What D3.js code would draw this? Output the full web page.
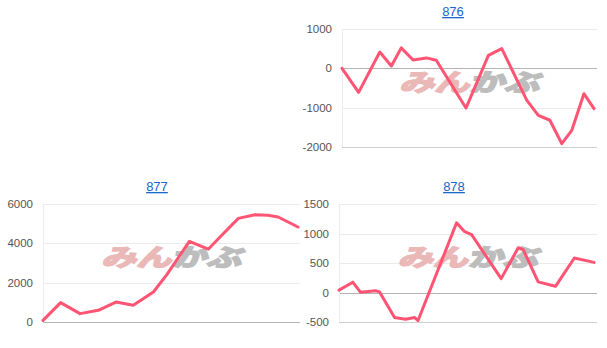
<!DOCTYPE html>
<html>
<head>
<meta charset="utf-8">
<script src="https://cdn.jsdelivr.net/npm/d3@7"></script>
<style>
  body { margin: 0; background: #fff; }
  svg { display: block; font-family: Arial, "Liberation Sans", sans-serif; }
</style>
</head>
<body>
<svg id="chart" width="607" height="348"></svg>
<script>
// time position of each point (0 = first day, 100 = last day) and value
const t876 = [0, 6.6, 15, 19.6, 23.5, 28.2, 33.5, 37.4, 49.2, 58.1, 63.4, 73.3, 77.9, 82.5, 87.2, 91.2, 96, 100];
const v876 = [0, -610, 415, 60, 520, 210, 265, 205, -1010, 330, 500, -810, -1195, -1320, -1915, -1575, -645, -1025];
const ticks876 = [1000, 0, -1000, -2000];

const t877 = [0, 6.9, 14.5, 21.7, 28.6, 35.4, 43.3, 48.5, 57.4, 64.8, 70.1, 76.6, 83.1, 88.2, 92.2, 100];
const v877 = [85, 985, 425, 595, 1015, 850, 1525, 2400, 4100, 3700, 4410, 5270, 5450, 5430, 5340, 4830];
const ticks877 = [6000, 4000, 2000, 0];

const t878 = [0, 5.4, 8.4, 14.3, 15.9, 21.8, 26.1, 29.7, 31.0, 46.1, 49.3, 52.0, 63.6, 70.3, 72.2, 78.1, 84.9, 92.3, 100];
const v878 = [40, 175, 5, 30, 10, -425, -455, -425, -475, 1180, 1030, 980, 235, 760, 730, 180, 105, 585, 510];
const ticks878 = [1500, 1000, 500, 0, -500];

const svg = d3.select("#chart");

// one small chart: title link, gridlines, watermark, line
function drawPanel(opt){
    const g = svg.append("g");

    const x = d3.scaleLinear().domain([0, 100]).range([opt.left, opt.lineRight]);
    const y = d3.scaleLinear()
        .domain([d3.min(opt.ticks), d3.max(opt.ticks)])
        .range([opt.bottom, opt.top]);

    // title, like a link
    g.append("text")
        .attr("x", opt.titleX)
        .attr("y", opt.top - 13)
        .attr("text-anchor", "middle")
        .attr("font-size", 13)
        .attr("fill", "#1a66cc")
        .attr("text-decoration", "underline")
        .text(opt.title);

    // gridlines
    g.selectAll(".grid")
        .data(opt.ticks)
        .join("line")
        .attr("x1", opt.left)
        .attr("x2", opt.right)
        .attr("y1", d => Math.round(y(d)) + 0.5)
        .attr("y2", d => Math.round(y(d)) + 0.5)
        .attr("stroke", d => d === 0 ? "#b5b5b5" : (d === d3.min(opt.ticks) ? "#cfcfcf" : "#ebebeb"))
        .attr("stroke-width", 1);

    // left edge
    g.append("line")
        .attr("x1", opt.left + 0.5).attr("x2", opt.left + 0.5)
        .attr("y1", opt.top).attr("y2", opt.bottom)
        .attr("stroke", "#ececec");

    // tick labels
    g.selectAll(".lbl")
        .data(opt.ticks)
        .join("text")
        .attr("x", opt.left - 10)
        .attr("y", d => y(d) + 4)
        .attr("text-anchor", "end")
        .attr("font-size", 11.5)
        .attr("fill", "#555")
        .text(d => d);

    // watermark (squashed, heavy)
    const cx = (opt.left + opt.right) / 2, cy = (opt.top + opt.bottom) / 2 - 7;
    const wm = g.append("text")
        .attr("transform", `translate(${cx},${cy + 10}) scale(1,0.8) skewX(-12)`)
        .attr("text-anchor", "middle")
        .attr("font-size", 30)
        .attr("font-weight", "bold")
        .attr("font-family", "'Noto Sans CJK JP', sans-serif")
        .attr("stroke-width", 2.2)
        .attr("textLength", 140)
        .attr("lengthAdjust", "spacingAndGlyphs");
    wm.append("tspan").attr("fill", "#ebb8b8").attr("stroke", "#ebb8b8").text("みん");
    wm.append("tspan").attr("fill", "#bdbdbd").attr("stroke", "#bdbdbd").text("かぶ");

    // the line
    const pts = opt.t.map((d, i) => [d, opt.v[i]]);
    g.append("path")
        .datum(pts)
        .attr("fill", "none")
        .attr("stroke", "#ff5473")
        .attr("stroke-width", 3)
        .attr("stroke-linejoin", "round")
        .attr("stroke-linecap", "round")
        .attr("d", d3.line().x(d => x(d[0])).y(d => y(d[1])));
}

drawPanel({title: "876", titleX: 453, left: 342, right: 597, lineRight: 594, top: 29, bottom: 147, ticks: ticks876, t: t876, v: v876});
drawPanel({title: "877", titleX: 157, left: 43, right: 300, lineRight: 298, top: 204, bottom: 322, ticks: ticks877, t: t877, v: v877});
drawPanel({title: "878", titleX: 454, left: 339, right: 597, lineRight: 594, top: 204, bottom: 322, ticks: ticks878, t: t878, v: v878});
</script>
</body>
</html>
